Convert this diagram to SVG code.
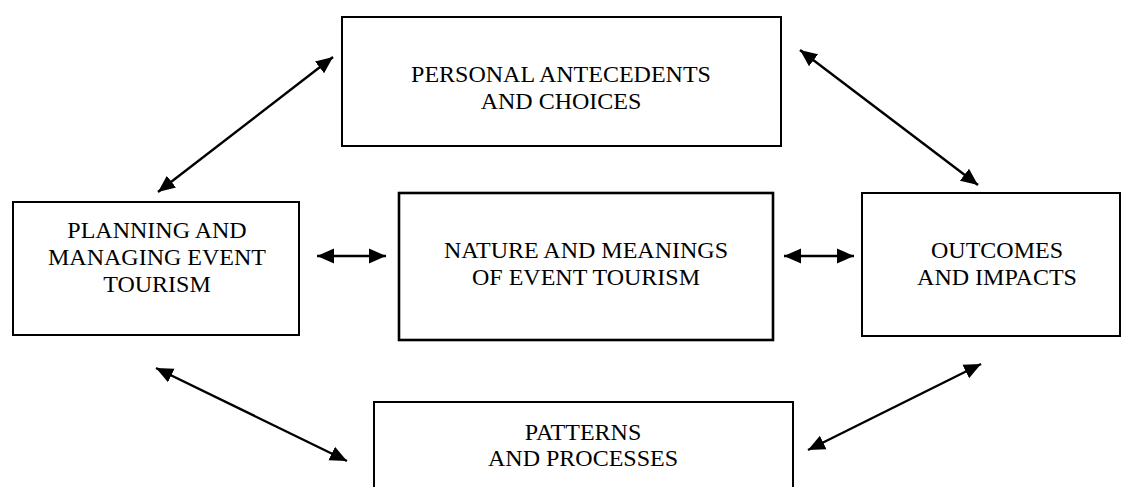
<svg xmlns="http://www.w3.org/2000/svg" width="1121" height="487" viewBox="0 0 1121 487">
<style>
.box{fill:#fff;stroke:#000;stroke-width:2}
.main{stroke-width:2.6}
.lbl{font-family:"Liberation Serif","Times New Roman",serif;font-size:24px;fill:#000;text-anchor:middle}
.con{stroke:#000;stroke-width:2.4;fill:none;marker-start:url(#ah);marker-end:url(#ah)}
</style>
<defs>
<marker id="ah" markerUnits="userSpaceOnUse" markerWidth="18" markerHeight="18" viewBox="0 0 18 18" refX="17" refY="9" orient="auto-start-reverse">
<path d="M0,1.5 L17,9 L0,16.5 Z" fill="#000"/>
</marker>
</defs>
<rect width="1121" height="487" fill="#fff"/>
<g id="personal">
<rect class="box" x="342" y="17" width="439" height="129"/>
<text class="lbl" x="561" y="82">PERSONAL ANTECEDENTS</text>
<text class="lbl" x="561" y="109">AND CHOICES</text>
</g>
<g id="planning">
<rect class="box" x="13" y="202" width="286" height="133"/>
<text class="lbl" x="157" y="238">PLANNING AND</text>
<text class="lbl" x="157" y="265">MANAGING EVENT</text>
<text class="lbl" x="157" y="292">TOURISM</text>
</g>
<g id="nature">
<rect class="box main" x="399" y="193" width="374" height="147"/>
<text class="lbl" x="586" y="258">NATURE AND MEANINGS</text>
<text class="lbl" x="586" y="285">OF EVENT TOURISM</text>
</g>
<g id="outcomes">
<rect class="box" x="862" y="193" width="258" height="143"/>
<text class="lbl" x="997" y="258">OUTCOMES</text>
<text class="lbl" x="997" y="285">AND IMPACTS</text>
</g>
<g id="patterns">
<rect class="box" x="374" y="402" width="419" height="100"/>
<text class="lbl" x="583" y="440">PATTERNS</text>
<text class="lbl" x="583" y="466">AND PROCESSES</text>
</g>
<g id="connectors">
<line class="con" x1="158" y1="192" x2="333" y2="57"/>
<line class="con" x1="800" y1="50" x2="978" y2="185"/>
<line class="con" x1="317" y1="256" x2="386" y2="256"/>
<line class="con" x1="784" y1="256" x2="854" y2="256"/>
<line class="con" x1="156" y1="368" x2="347" y2="461"/>
<line class="con" x1="808" y1="450" x2="981" y2="364"/>
</g>
</svg>
